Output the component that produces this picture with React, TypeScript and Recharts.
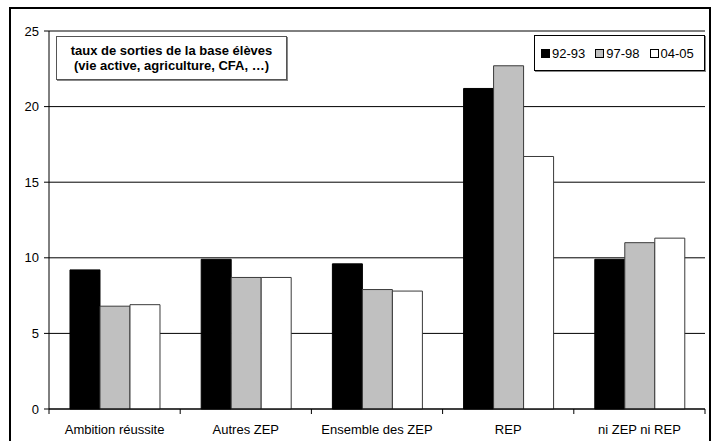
import React from 'react';
import { BarChart, Bar, XAxis, YAxis, CartesianGrid } from 'recharts';

const categories = ['Ambition réussite', 'Autres ZEP', 'Ensemble des ZEP', 'REP', 'ni ZEP ni REP'];
const serie9293 = [9.2, 9.9, 9.6, 21.2, 9.9];
const serie9798 = [6.8, 8.7, 7.9, 22.7, 11.0];
const serie0405 = [6.9, 8.7, 7.8, 16.7, 11.3];
const seriesNames = ['92-93', '97-98', '04-05'];
const seriesFills = ['#000000', '#c0c0c0', '#ffffff'];
const yTicks = [0, 5, 10, 15, 20, 25];
const titleLines = ['taux de sorties de la base élèves', '(vie active, agriculture, CFA, …)'];

const data = categories.map((name, i) => ({
  name,
  s1: serie9293[i],
  s2: serie9798[i],
  s3: serie0405[i],
}));

const FONT = '"Liberation Sans", Arial, Helvetica, sans-serif';

// category labels centred, tick marks on the category boundaries
const CategoryTick = (props: any) => {
  const { x, y, payload, index } = props;
  const half = payload && payload.offset ? payload.offset : 65.6;
  return (
    <g>
      {index === 0 && (
        <line x1={x - half} x2={x - half} y1={y - 7} y2={y - 2} stroke="#000" />
      )}
      <line x1={x + half} x2={x + half} y1={y - 7} y2={y - 2} stroke="#000" />
      <text x={x} y={y + 18} textAnchor="middle" fill="#000" fontSize={13} fontFamily={FONT}>
        {payload.value}
      </text>
    </g>
  );
};

export default function App() {
  return (
    <div style={{ position: 'absolute', left: 0, top: 0, width: 717, height: 441, background: '#fff', overflow: 'hidden', fontFamily: FONT }}>
      <BarChart
        width={717}
        height={441}
        data={data}
        margin={{ top: 31, right: 12, left: 9, bottom: 2 }}
        barCategoryGap="16%"
        barGap={0}
      >
        <CartesianGrid vertical={false} stroke="#000" />
        <XAxis
          dataKey="name"
          height={30}
          interval={0}
          tickSize={5}
          tickMargin={2}
          tickLine={false}
          axisLine={{ stroke: '#000' }}
          tick={<CategoryTick />}
        />
        <YAxis
          domain={[0, 25]}
          ticks={yTicks}
          width={40}
          tickSize={5}
          tickMargin={5}
          axisLine={{ stroke: '#000' }}
          tickLine={{ stroke: '#000' }}
          tick={{ fill: '#000', fontSize: 13, fontFamily: FONT }}
        />
        <YAxis
          yAxisId="right"
          orientation="right"
          domain={[0, 25]}
          width={0}
          tick={false}
          tickLine={false}
          axisLine={{ stroke: '#808080' }}
        />
        <Bar dataKey="s1" name={seriesNames[0]} fill={seriesFills[0]} stroke="#000" isAnimationActive={false} />
        <Bar dataKey="s2" name={seriesNames[1]} fill={seriesFills[1]} stroke="#3a3a3a" isAnimationActive={false} />
        <Bar dataKey="s3" name={seriesNames[2]} fill={seriesFills[2]} stroke="#3a3a3a" isAnimationActive={false} />
      </BarChart>

      {/* outer frame */}
      <div style={{ position: 'absolute', left: 9, top: 7, width: 702, height: 460, border: '2px solid #000', boxSizing: 'border-box', pointerEvents: 'none' }} />

      {/* title box */}
      <div
        style={{
          position: 'absolute', left: 56, top: 36, width: 231, height: 44,
          border: '1px solid #555', boxSizing: 'border-box', background: '#fff',
          boxShadow: '1px 1px 0 #888',
          fontWeight: 'bold', fontSize: 13, lineHeight: '15px', textAlign: 'center', paddingTop: 6, color: '#000',
        }}
      >
        {titleLines.map((l) => (
          <div key={l}>{l}</div>
        ))}
      </div>

      {/* legend */}
      <div
        style={{
          position: 'absolute', left: 534, top: 35, width: 171, height: 36,
          border: '1px solid #000', boxSizing: 'border-box', background: '#fff',
          boxShadow: '1px 1px 0 #888',
          display: 'flex', alignItems: 'center', paddingLeft: 6, gap: 10, fontSize: 13, color: '#000',
        }}
      >
        {seriesNames.map((n, i) => (
          <div key={n} style={{ display: 'flex', alignItems: 'center', gap: 2 }}>
            <span style={{ display: 'inline-block', width: 9, height: 9, boxSizing: 'border-box', background: seriesFills[i], border: '1px solid #000' }} />
            <span>{n}</span>
          </div>
        ))}
      </div>
    </div>
  );
}
